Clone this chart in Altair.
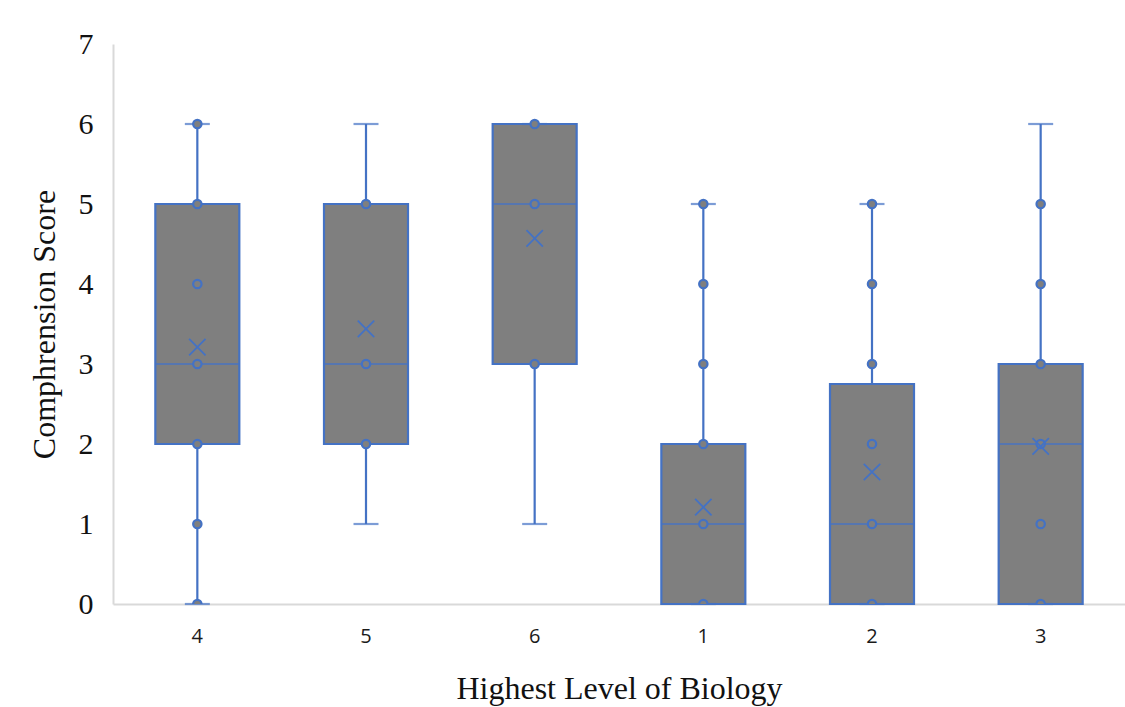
import altair as alt
import pandas as pd

groups = ["4", "5", "6", "1", "2", "3"]
q1 = [2, 2, 3, 0, 0, 0]
median = [3, 3, 5, 1, 1, 2]
q3 = [5, 5, 6, 2, 2.75, 3]
whisker_low = [0, 1, 1, 0, 0, 0]
whisker_high = [6, 6, 6, 5, 5, 6]
means = [3.21, 3.44, 4.57, 1.21, 1.65, 1.97]
points = {
    "4": [0, 1, 2, 3, 4, 5, 6],
    "5": [2, 3, 5],
    "6": [3, 5, 6],
    "1": [0, 1, 2, 3, 4, 5],
    "2": [0, 1, 2, 3, 4, 5],
    "3": [0, 1, 2, 3, 4, 5],
}

BLUE = "#4472C4"
GRAY = "#7f7f7f"

summary = pd.DataFrame({
    "group": groups, "q1": q1, "median": median, "q3": q3,
    "lo": whisker_low, "hi": whisker_high, "mean": means,
})
pts = pd.DataFrame([{"group": g, "value": v} for g in groups for v in points[g]])

x = alt.X("group:N", sort=groups, title="Highest Level of Biology",
          scale=alt.Scale(paddingInner=0, paddingOuter=0),
          axis=alt.Axis(labelAngle=0, ticks=False, domainColor="#d9d9d9", domainWidth=2,
                        labelFont="Open Sans", labelFontSize=20, labelColor="#1a1a1a",
                        labelPadding=22, titleFont="Liberation Serif", titleFontSize=32,
                        titleFontWeight="normal", titleColor="#111111", titlePadding=27))
yscale = alt.Scale(domain=[0, 7], nice=False)
yaxis = alt.Axis(values=[0, 1, 2, 3, 4, 5, 6, 7], format="d", grid=False, ticks=False,
                 domainColor="#d9d9d9", domainWidth=2, labelFont="Liberation Serif",
                 labelFontSize=30, labelColor="#111111", labelPadding=20,
                 titleFont="Liberation Serif", titleFontSize=32, titleFontWeight="normal",
                 titleColor="#111111", titlePadding=17)

base = alt.Chart(summary)

whisker = base.mark_rule(color=BLUE, strokeWidth=2.2).encode(
    x=x, y=alt.Y("lo:Q", scale=yscale, axis=yaxis, title="Comphrension Score"), y2="hi:Q")
box = base.mark_bar(size=84, fill=GRAY, stroke=BLUE, strokeWidth=2.2).encode(
    x=x, y=alt.Y("q1:Q", scale=yscale), y2="q3:Q")
med = base.mark_tick(size=84, thickness=2, color=BLUE).encode(
    x=x, y=alt.Y("median:Q", scale=yscale))
cap_hi = base.mark_tick(size=25, thickness=2.2, color=BLUE).encode(
    x=x, y=alt.Y("hi:Q", scale=yscale))
cap_lo = base.mark_tick(size=25, thickness=2.2, color=BLUE).encode(
    x=x, y=alt.Y("lo:Q", scale=yscale))
dots = alt.Chart(pts).mark_point(shape="circle", filled=False, fill=GRAY, fillOpacity=1,
                                 stroke=BLUE, strokeWidth=2.2, size=70, opacity=1, clip=True).encode(
    x=x, y=alt.Y("value:Q", scale=yscale))
mean_mark = base.mark_point(shape="M-1,-1L1,1M-1,1L1,-1", filled=False, stroke=BLUE,
                            strokeWidth=1.8, size=270, opacity=1).encode(
    x=x, y=alt.Y("mean:Q", scale=yscale))

chart = alt.layer(whisker, box, med, cap_hi, cap_lo, dots, mean_mark).properties(
    width=1012, height=560,
    autosize=alt.AutoSizeParams(type="none"),
    padding={"left": 113, "top": 44, "right": 0, "bottom": 103},
    background="white",
).configure_view(stroke=None)

chart.save("out.html", embed_options={"renderer": "svg", "actions": False})
